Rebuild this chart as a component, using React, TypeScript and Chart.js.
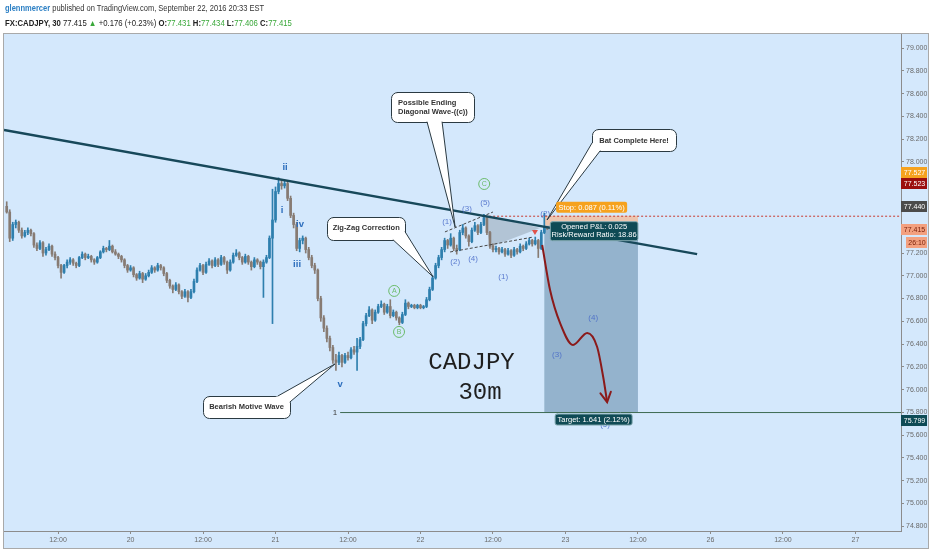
import React, { useEffect, useRef } from 'react';
import { Chart, registerables } from 'chart.js';

Chart.register(...registerables);

// ---------- DATA ----------
const firstBar = 7; // bar index of first candle (0 = Sep 19 00:00, 30m bars)
// [open, high, low, close]
const ohlc: [number, number, number, number][] = [
  [77.61, 77.65, 77.55, 77.56], [77.56, 77.58, 77.30, 77.33], [77.33, 77.47, 77.31, 77.45], [77.45, 77.49, 77.42, 77.47], [77.47, 77.48, 77.38, 77.40],
  [77.40, 77.42, 77.33, 77.35], [77.35, 77.40, 77.34, 77.38], [77.38, 77.42, 77.36, 77.40], [77.40, 77.41, 77.35, 77.37], [77.37, 77.38, 77.25, 77.27],
  [77.27, 77.29, 77.22, 77.24], [77.24, 77.31, 77.23, 77.29], [77.29, 77.30, 77.17, 77.20], [77.20, 77.25, 77.18, 77.23], [77.23, 77.28, 77.22, 77.26],
  [77.26, 77.27, 77.17, 77.19], [77.19, 77.21, 77.14, 77.16], [77.16, 77.17, 77.07, 77.09], [77.09, 77.10, 76.98, 77.03], [77.03, 77.10, 77.02, 77.09],
  [77.09, 77.14, 77.07, 77.12], [77.12, 77.16, 77.10, 77.14], [77.14, 77.15, 77.09, 77.11], [77.11, 77.12, 77.07, 77.09], [77.09, 77.17, 77.08, 77.16],
  [77.16, 77.21, 77.15, 77.19], [77.19, 77.20, 77.14, 77.16], [77.16, 77.19, 77.15, 77.17], [77.17, 77.18, 77.12, 77.14], [77.14, 77.15, 77.10, 77.12],
  [77.12, 77.17, 77.11, 77.16], [77.16, 77.22, 77.15, 77.21], [77.21, 77.26, 77.20, 77.24], [77.24, 77.25, 77.21, 77.23], [77.23, 77.31, 77.22, 77.26],
  [77.26, 77.27, 77.20, 77.21], [77.21, 77.23, 77.18, 77.19], [77.19, 77.20, 77.15, 77.17], [77.17, 77.18, 77.12, 77.14], [77.14, 77.15, 77.07, 77.09],
  [77.09, 77.10, 77.03, 77.05], [77.05, 77.09, 77.04, 77.07], [77.07, 77.08, 76.99, 77.01], [77.01, 77.02, 76.96, 76.98], [76.98, 77.04, 76.97, 77.02],
  [77.02, 77.03, 76.94, 76.97], [76.97, 77.02, 76.96, 77.00], [77.00, 77.05, 76.99, 77.03], [77.03, 77.09, 77.02, 77.07], [77.07, 77.08, 77.03, 77.05],
  [77.05, 77.11, 77.04, 77.09], [77.09, 77.10, 77.05, 77.07], [77.07, 77.08, 77.00, 77.02], [77.02, 77.03, 76.94, 76.96], [76.96, 76.97, 76.89, 76.91],
  [76.91, 76.92, 76.85, 76.88], [76.88, 76.94, 76.87, 76.92], [76.92, 76.93, 76.84, 76.86], [76.86, 76.87, 76.80, 76.82], [76.82, 76.88, 76.81, 76.86],
  [76.86, 76.87, 76.77, 76.81], [76.81, 76.88, 76.80, 76.86], [76.86, 76.97, 76.85, 76.95], [76.95, 77.07, 76.94, 77.05], [77.05, 77.11, 77.04, 77.09],
  [77.09, 77.10, 77.01, 77.03], [77.03, 77.12, 77.02, 77.10], [77.10, 77.15, 77.09, 77.13], [77.13, 77.14, 77.07, 77.09], [77.09, 77.16, 77.08, 77.14],
  [77.14, 77.15, 77.08, 77.10], [77.10, 77.18, 77.09, 77.16], [77.16, 77.17, 77.10, 77.12], [77.12, 77.13, 77.02, 77.05], [77.05, 77.14, 77.04, 77.12],
  [77.12, 77.20, 77.11, 77.18], [77.18, 77.23, 77.17, 77.20], [77.20, 77.21, 77.14, 77.16], [77.16, 77.17, 77.10, 77.12], [77.12, 77.19, 77.11, 77.17],
  [77.17, 77.18, 77.10, 77.12], [77.12, 77.13, 77.05, 77.08], [77.08, 77.16, 77.07, 77.14], [77.14, 77.15, 77.10, 77.12], [77.12, 77.13, 77.06, 77.08],
  [77.08, 77.14, 76.81, 77.12], [77.12, 77.18, 77.11, 77.16], [77.16, 77.35, 77.15, 77.33], [77.33, 77.76, 76.58, 77.49], [77.49, 77.78, 77.47, 77.74],
  [77.74, 77.86, 77.72, 77.81], [77.81, 77.84, 77.76, 77.79], [77.79, 77.84, 77.77, 77.81], [77.81, 77.83, 77.66, 77.68], [77.68, 77.70, 77.51, 77.53],
  [77.53, 77.55, 77.42, 77.45], [77.45, 77.47, 77.22, 77.24], [77.24, 77.33, 77.21, 77.31], [77.31, 77.35, 77.28, 77.33], [77.33, 77.34, 77.20, 77.23],
  [77.23, 77.25, 77.14, 77.16], [77.16, 77.18, 77.07, 77.09], [77.09, 77.11, 77.02, 77.05], [77.05, 77.06, 76.78, 76.80], [76.80, 76.82, 76.60, 76.63],
  [76.63, 76.65, 76.51, 76.54], [76.54, 76.56, 76.42, 76.45], [76.45, 76.47, 76.34, 76.37], [76.37, 76.39, 76.23, 76.26], [76.26, 76.31, 76.17, 76.24],
  [76.24, 76.33, 76.22, 76.30], [76.30, 76.31, 76.20, 76.24], [76.24, 76.32, 76.23, 76.30], [76.30, 76.33, 76.26, 76.28], [76.28, 76.37, 76.27, 76.35],
  [76.35, 76.38, 76.31, 76.33], [76.33, 76.45, 76.17, 76.38], [76.38, 76.46, 76.36, 76.44], [76.44, 76.60, 76.43, 76.58], [76.58, 76.67, 76.56, 76.65],
  [76.65, 76.73, 76.64, 76.70], [76.70, 76.71, 76.58, 76.61], [76.61, 76.70, 76.60, 76.68], [76.68, 76.75, 76.67, 76.73], [76.73, 76.78, 76.72, 76.75],
  [76.75, 76.76, 76.66, 76.68], [76.68, 76.75, 76.67, 76.73], [76.73, 76.79, 76.63, 76.65], [76.65, 76.70, 76.64, 76.68], [76.68, 76.69, 76.61, 76.63],
  [76.63, 76.64, 76.57, 76.59], [76.59, 76.68, 76.58, 76.66], [76.66, 76.79, 76.65, 76.76], [76.76, 76.77, 76.71, 76.73], [76.73, 76.75, 76.72, 76.74],
  [76.74, 76.75, 76.71, 76.72], [76.72, 76.75, 76.71, 76.74], [76.74, 76.75, 76.71, 76.72], [76.72, 76.74, 76.71, 76.73], [76.73, 76.81, 76.72, 76.79],
  [76.79, 76.90, 76.78, 76.88], [76.88, 77.00, 76.87, 76.98], [76.98, 77.11, 76.97, 77.09], [77.09, 77.18, 77.07, 77.16], [77.16, 77.25, 77.14, 77.23],
  [77.23, 77.33, 77.21, 77.31], [77.31, 77.32, 77.24, 77.27], [77.27, 77.37, 77.26, 77.33], [77.33, 77.34, 77.22, 77.24], [77.24, 77.27, 77.19, 77.23],
  [77.23, 77.40, 77.22, 77.38], [77.38, 77.45, 77.36, 77.42], [77.42, 77.43, 77.33, 77.35], [77.35, 77.36, 77.26, 77.30], [77.30, 77.42, 77.29, 77.40],
  [77.40, 77.47, 77.39, 77.44], [77.44, 77.45, 77.36, 77.38], [77.38, 77.47, 77.37, 77.45], [77.45, 77.54, 77.44, 77.51], [77.51, 77.52, 77.36, 77.38],
  [77.38, 77.39, 77.24, 77.26], [77.26, 77.28, 77.21, 77.23], [77.23, 77.26, 77.21, 77.24], [77.24, 77.25, 77.19, 77.21], [77.21, 77.25, 77.20, 77.23],
  [77.23, 77.24, 77.17, 77.19], [77.19, 77.24, 77.18, 77.22], [77.22, 77.23, 77.16, 77.18], [77.18, 77.25, 77.17, 77.23], [77.23, 77.24, 77.19, 77.21],
  [77.21, 77.28, 77.20, 77.26], [77.26, 77.27, 77.22, 77.24], [77.24, 77.30, 77.23, 77.28], [77.28, 77.33, 77.27, 77.31], [77.31, 77.32, 77.26, 77.28],
  [77.28, 77.34, 77.27, 77.31], [77.31, 77.32, 77.16, 77.24], [77.24, 77.40, 77.23, 77.38], [77.38, 77.55, 77.37, 77.43], [77.431, 77.434, 77.406, 77.415],
];

const xTickValues = [24, 48, 72, 96, 120, 144, 168, 192, 216, 240, 264, 288];
const xTickLabels = ['12:00', '20', '12:00', '21', '12:00', '22', '12:00', '23', '12:00', '26', '12:00', '27'];
const yTickValues = [74.8, 75.0, 75.2, 75.4, 75.6, 75.8, 76.0, 76.2, 76.4, 76.6, 76.8, 77.0, 77.2, 77.4, 77.6, 77.8, 78.0, 78.2, 78.4, 78.6, 78.8, 79.0];
const xRange = [6.1, 303.1];
const yRange = [74.759, 79.123];

const trendLine = [{ x: 6.1, y: 78.28 }, { x: 235.6, y: 77.19 }];
const projectionCurve = [
  { x: 184.3, y: 77.27 }, { x: 186.9, y: 76.875 }, { x: 190.2, y: 76.586 }, { x: 194.5, y: 76.392 },
  { x: 199.2, y: 76.498 }, { x: 202.5, y: 76.375 }, { x: 204.5, y: 76.111 }, { x: 205.8, y: 75.891 },
];
const redLevel = [{ x: 165.4, y: 77.523 }, { x: 303.1, y: 77.523 }];
const fibLevel = [{ x: 117.4, y: 75.799 }, { x: 303.1, y: 75.799 }];
const diagUpper = [{ x: 152.1, y: 77.385 }, { x: 168.0, y: 77.56 }];
const diagLower = [{ x: 153.8, y: 77.209 }, { x: 181.3, y: 77.34 }];
const greyTriangle = [{ x: 165.4, y: 77.534 }, { x: 167.0, y: 77.253 }, { x: 183.6, y: 77.42 }];
const redMarker = { x: 181.9, y: 77.376 };

const trade = { from: 185, to: 216, entry: 77.44, stop: 77.527, target: 75.799 };
const tradeTexts = { stop: 'Stop: 0.087 (0.11%)', pnl: 'Opened P&L: 0.025', rr: 'Risk/Reward Ratio: 18.86', target: 'Target: 1.641 (2.12%)' };

const waveLabels = [
  { t: 'ii', x: 99.17, y: 77.955, k: 'roman' }, { t: 'i', x: 98.17, y: 77.578, k: 'roman' },
  { t: 'iv', x: 104.13, y: 77.455, k: 'roman' }, { t: 'iii', x: 103.14, y: 77.104, k: 'roman' },
  { t: 'v', x: 117.38, y: 76.05, k: 'roman' },
  { t: '(1)', x: 152.8, y: 77.472, k: 'paren' }, { t: '(2)', x: 155.5, y: 77.121, k: 'paren' },
  { t: '(3)', x: 159.4, y: 77.587, k: 'paren' }, { t: '(4)', x: 161.4, y: 77.147, k: 'paren' },
  { t: '(5)', x: 165.4, y: 77.639, k: 'paren' }, { t: '(1)', x: 171.4, y: 76.99, k: 'paren' },
  { t: '(2)', x: 185.3, y: 77.543, k: 'paren' }, { t: '(3)', x: 189.2, y: 76.305, k: 'paren' },
  { t: '(4)', x: 201.2, y: 76.63, k: 'paren' }, { t: '(5)', x: 205.1, y: 75.69, k: 'paren' },
  { t: 'A', x: 135.3, y: 76.867, k: 'circle' }, { t: 'B', x: 136.9, y: 76.507, k: 'circle' },
  { t: 'C', x: 165.1, y: 77.806, k: 'circle' },
  { t: '1', x: 115.7, y: 75.80, k: 'fib' },
];
const bigTitle = [
  { t: 'CADJPY', x: 160.9, y: 76.239 },
  { t: '30m', x: 163.7, y: 75.975 },
];
const callouts = [
  { lines: ['Possible Ending', 'Diagonal Wave-((c))'], x: 155.46, y: 77.428 },
  { lines: ['Bat Complete Here!'], x: 185.9, y: 77.49 },
  { lines: ['Zig-Zag Correction'], x: 148.2, y: 76.99 },
  { lines: ['Bearish Motive Wave'], x: 115.7, y: 76.226 },
];
const axisTags = [
  { value: 77.527, text: '77.527' },
  { value: 77.523, text: '77.523' },
  { value: 77.44, text: '77.440' },
  { value: 77.415, text: '77.415' },
  { value: 77.415, text: '26:10' },
  { value: 75.799, text: '75.799' },
];

// ---------- STYLE / LAYOUT ----------
const BG = '#d4e8fc';
const UP = '#2e7fae';
const DOWN = '#877b73';
const SANS = '"Liberation Sans", Arial, sans-serif';
const CALLOUT_LAYOUT = [
  { box: [-64, -135, 19, -105], b1: [-28, -105], b2: [-13, -105], align: 'left', tx: -57, ty: [-124, -115.3] },
  { box: [45, -91, 129, -69], b1: [45, -77], b2: [53, -69], align: 'center', tx: 87, ty: [-79] },
  { box: [-106, -60, -28, -37], b1: [-40, -37], b2: [-28, -45], align: 'center', tx: -67, ty: [-48.5] },
  { box: [-132, 32, -45, 54], b1: [-57, 32], b2: [-45, 38], align: 'center', tx: -88.5, ty: [43] },
];
const TAG_STYLE = [
  { dy: -43, bg: '#f6a21e', fg: '#ffffff', l: 901 },
  { dy: -33, bg: '#9b0e0e', fg: '#ffffff', l: 901 },
  { dy: -19, bg: '#4b4b4b', fg: '#ffffff', l: 901 },
  { dy: 1, bg: '#f3a07f', fg: '#7a200a', l: 901 },
  { dy: 13.5, bg: '#f3a07f', fg: '#7a200a', l: 906 },
  { dy: 7.5, bg: '#0e4a55', fg: '#ffffff', l: 901 },
];

function rr(ctx: CanvasRenderingContext2D, x: number, y: number, w: number, h: number, r: number) {
  ctx.beginPath();
  ctx.moveTo(x + r, y);
  ctx.lineTo(x + w - r, y);
  ctx.arcTo(x + w, y, x + w, y + r, r);
  ctx.lineTo(x + w, y + h - r);
  ctx.arcTo(x + w, y + h, x + w - r, y + h, r);
  ctx.lineTo(x + r, y + h);
  ctx.arcTo(x, y + h, x, y + h - r, r);
  ctx.lineTo(x, y + r);
  ctx.arcTo(x, y, x + r, y, r);
  ctx.closePath();
}

const overlayPlugin = {
  id: 'overlay',
  beforeDraw(chart: any) {
    const ctx = chart.ctx as CanvasRenderingContext2D;
    ctx.save();
    ctx.fillStyle = '#ffffff';
    ctx.fillRect(0, 0, chart.width, chart.height);
    ctx.fillStyle = BG;
    ctx.fillRect(4, 34, 924, 514);
    ctx.strokeStyle = '#a9a9a9';
    ctx.lineWidth = 1;
    ctx.strokeRect(3.5, 33.5, 925, 515);
    ctx.restore();
  },
  beforeDatasetsDraw(chart: any) {
    const ctx = chart.ctx as CanvasRenderingContext2D;
    const xs = chart.scales.x, ys = chart.scales.y;
    const a = chart.chartArea;
    ctx.save();
    ctx.beginPath();
    ctx.rect(a.left, a.top, a.right - a.left, a.bottom - a.top);
    ctx.clip();
    const l = xs.getPixelForValue(trade.from), r = xs.getPixelForValue(trade.to);
    const yE = ys.getPixelForValue(trade.entry), yS = ys.getPixelForValue(trade.stop), yT = ys.getPixelForValue(trade.target);
    ctx.fillStyle = 'rgba(245,185,150,0.75)';
    ctx.fillRect(l, yS, r - l, yE - yS);
    ctx.fillStyle = 'rgba(95,135,165,0.55)';
    ctx.fillRect(l, yE, r - l, yT - yE);
    ctx.beginPath();
    greyTriangle.forEach((p, i) => {
      const px = xs.getPixelForValue(p.x), py = ys.getPixelForValue(p.y);
      if (i === 0) ctx.moveTo(px, py); else ctx.lineTo(px, py);
    });
    ctx.closePath();
    ctx.fillStyle = 'rgba(150,165,180,0.55)';
    ctx.fill();
    ctx.restore();
  },
  afterDatasetsDraw(chart: any) {
    const ctx = chart.ctx as CanvasRenderingContext2D;
    const xs = chart.scales.x, ys = chart.scales.y;
    const X = (v: number) => xs.getPixelForValue(v);
    const Y = (v: number) => ys.getPixelForValue(v);
    ctx.save();
    ctx.textBaseline = 'middle';

    const n = projectionCurve.length;
    const p1 = projectionCurve[n - 2], p2 = projectionCurve[n - 1];
    const ax = X(p2.x), ay = Y(p2.y);
    const ang = Math.atan2(ay - Y(p1.y), ax - X(p1.x));
    ctx.strokeStyle = '#8b1a1a';
    ctx.lineWidth = 2;
    ctx.lineCap = 'round';
    ctx.beginPath();
    ctx.moveTo(ax - 11 * Math.cos(ang - 0.5), ay - 11 * Math.sin(ang - 0.5));
    ctx.lineTo(ax, ay);
    ctx.lineTo(ax - 11 * Math.cos(ang + 0.5), ay - 11 * Math.sin(ang + 0.5));
    ctx.stroke();

    const mx = X(redMarker.x), my = Y(redMarker.y);
    ctx.fillStyle = '#e0524a';
    ctx.beginPath();
    ctx.moveTo(mx - 3, my - 3);
    ctx.lineTo(mx + 3, my - 3);
    ctx.lineTo(mx, my + 2);
    ctx.closePath();
    ctx.fill();

    ctx.textAlign = 'center';
    waveLabels.forEach((w) => {
      const px = X(w.x), py = Y(w.y);
      if (w.k === 'roman') {
        ctx.font = `bold 9.5px ${SANS}`;
        ctx.fillStyle = '#2d6ebd';
        ctx.fillText(w.t, px, py);
      } else if (w.k === 'paren') {
        ctx.font = `8px ${SANS}`;
        ctx.fillStyle = 'rgba(70,105,200,0.85)';
        ctx.fillText(w.t, px, py);
      } else if (w.k === 'circle') {
        ctx.strokeStyle = '#6cbc6c';
        ctx.lineWidth = 1;
        ctx.beginPath();
        ctx.arc(px, py, 5.5, 0, Math.PI * 2);
        ctx.stroke();
        ctx.font = `7px ${SANS}`;
        ctx.fillStyle = '#6cbc6c';
        ctx.fillText(w.t, px, py + 0.5);
      } else {
        ctx.font = `8px ${SANS}`;
        ctx.fillStyle = '#3a3a3a';
        ctx.fillText(w.t, px, py);
      }
    });

    ctx.font = '24px "Liberation Mono", "DejaVu Sans Mono", monospace';
    ctx.fillStyle = '#1e1e1e';
    bigTitle.forEach((b) => ctx.fillText(b.t, X(b.x), Y(b.y)));

    callouts.forEach((c, i) => {
      const L = CALLOUT_LAYOUT[i];
      const tx = X(c.x), ty = Y(c.y);
      const bl = Math.round(tx + L.box[0]) + 0.5, bt = Math.round(ty + L.box[1]) + 0.5;
      const br = Math.round(tx + L.box[2]) + 0.5, bb = Math.round(ty + L.box[3]) + 0.5;
      ctx.lineWidth = 1;
      ctx.strokeStyle = '#2b3a42';
      rr(ctx, bl, bt, br - bl, bb - bt, 6);
      ctx.fillStyle = '#ffffff';
      ctx.fill();
      ctx.stroke();
      const b1x = tx + L.b1[0], b1y = ty + L.b1[1], b2x = tx + L.b2[0], b2y = ty + L.b2[1];
      const cx = (bl + br) / 2, cy = (bt + bb) / 2;
      ctx.beginPath();
      ctx.moveTo(b1x, b1y);
      ctx.lineTo(tx, ty);
      ctx.lineTo(b2x, b2y);
      ctx.lineTo(cx, cy);
      ctx.closePath();
      ctx.fill();
      ctx.beginPath();
      ctx.moveTo(b1x, b1y);
      ctx.lineTo(tx, ty);
      ctx.lineTo(b2x, b2y);
      ctx.stroke();
      ctx.font = `bold 7.5px ${SANS}`;
      ctx.fillStyle = '#333333';
      ctx.textAlign = L.align as CanvasTextAlign;
      c.lines.forEach((line, j) => ctx.fillText(line, tx + L.tx, ty + L.ty[j]));
    });

    const l = X(trade.from), r = X(trade.to);
    const cxT = (l + r) / 2;
    const yE = Y(trade.entry), yS = Y(trade.stop), yT = Y(trade.target);
    ctx.textAlign = 'center';
    ctx.font = `7.5px ${SANS}`;
    ctx.fillStyle = '#f6a21e';
    rr(ctx, cxT - 35, yS - 14, 71, 11, 2);
    ctx.fill();
    ctx.fillStyle = '#ffffff';
    ctx.fillText(tradeTexts.stop, cxT + 0.5, yS - 8.3);
    ctx.fillStyle = '#0f4a55';
    ctx.strokeStyle = '#7fa7ae';
    rr(ctx, l + 6, yE - 4, r - l - 6, 19, 2);
    ctx.fill();
    ctx.stroke();
    ctx.fillStyle = '#ffffff';
    ctx.fillText(tradeTexts.pnl, cxT + 3, yE + 1.3);
    ctx.fillText(tradeTexts.rr, cxT + 3, yE + 9.5);
    ctx.fillStyle = '#0f4a55';
    rr(ctx, cxT - 36, yT + 1.5, 77, 11, 2);
    ctx.fill();
    ctx.stroke();
    ctx.fillStyle = '#ffffff';
    ctx.fillText(tradeTexts.target, cxT + 2.5, yT + 7.3);
    ctx.restore();
  },
  afterDraw(chart: any) {
    const ctx = chart.ctx as CanvasRenderingContext2D;
    const ys = chart.scales.y;
    ctx.save();
    ctx.textBaseline = 'middle';
    ctx.textAlign = 'center';
    ctx.font = `7px ${SANS}`;
    axisTags.forEach((t, i) => {
      const s = TAG_STYLE[i];
      const y = ys.getPixelForValue(t.value) + s.dy;
      ctx.fillStyle = s.bg;
      ctx.fillRect(s.l, Math.round(y - 5.5), 927 - s.l, 11);
      ctx.fillStyle = s.fg;
      ctx.fillText(t.text, (s.l + 927) / 2 + 0.5, Math.round(y - 5.5) + 6);
    });
    ctx.restore();
  },
};

export default function App() {
  const ref = useRef<HTMLCanvasElement | null>(null);
  useEffect(() => {
    if (!ref.current) return;
    const colors = ohlc.map((b) => (b[3] >= b[0] ? UP : DOWN));
    const wickData = ohlc.map((b, k) => ({ x: firstBar + k, y: [b[2], b[1]] }));
    const bodyData = ohlc.map((b, k) => ({ x: firstBar + k, y: [Math.min(b[0], b[3]), Math.max(b[0], b[3])] }));
    const lineBase = { type: 'line', pointRadius: 0, fill: false, borderWidth: 1, tension: 0 };
    const chart = new Chart(ref.current, {
      type: 'bar',
      data: {
        datasets: [
          { ...lineBase, data: projectionCurve, borderColor: '#8b1a1a', borderWidth: 2, cubicInterpolationMode: 'monotone', order: 0 },
          { ...lineBase, data: trendLine, borderColor: '#17485a', borderWidth: 2.5, order: 1 },
          { ...lineBase, data: redLevel, borderColor: '#c8392e', borderDash: [2, 2], order: 2 },
          { ...lineBase, data: fibLevel, borderColor: '#3d6a52', order: 2 },
          { ...lineBase, data: diagUpper, borderColor: '#474747', borderDash: [3, 2], order: 2 },
          { ...lineBase, data: diagLower, borderColor: '#474747', borderDash: [3, 2], order: 2 },
          { type: 'bar', data: wickData, backgroundColor: colors, barThickness: 1, grouped: false, order: 6 },
          { type: 'bar', data: bodyData, backgroundColor: colors, barThickness: 2, grouped: false, minBarLength: 1, order: 5 },
        ] as any,
      },
      options: {
        animation: false,
        responsive: false,
        devicePixelRatio: 1,
        events: [],
        layout: { padding: { left: 4, top: 34, right: 5, bottom: 2 } },
        plugins: { legend: { display: false }, tooltip: { enabled: false } },
        scales: {
          x: {
            type: 'linear',
            min: xRange[0],
            max: xRange[1],
            offset: false,
            grid: { display: true, drawOnChartArea: false, drawTicks: true, tickLength: 3, color: '#8c8c8c', offset: false },
            border: { display: true, color: '#8c8c8c' },
            ticks: {
              autoSkip: false, maxRotation: 0, padding: 2, color: '#6a6a6a',
              font: { size: 7, family: SANS },
              callback: (v: any) => { const k = xTickValues.indexOf(Number(v)); return k >= 0 ? xTickLabels[k] : ''; },
            },
            afterBuildTicks: (s: any) => { s.ticks = xTickValues.map((v) => ({ value: v })); },
            afterFit: (s: any) => { s.height = 17; },
          },
          y: {
            type: 'linear',
            position: 'right',
            min: yRange[0],
            max: yRange[1],
            grid: { display: true, drawOnChartArea: false, drawTicks: true, tickLength: 3, color: '#8c8c8c' },
            border: { display: true, color: '#8c8c8c' },
            ticks: {
              padding: 2, color: '#6a6a6a', font: { size: 7, family: SANS },
              callback: (v: any) => Number(v).toFixed(3),
            },
            afterBuildTicks: (s: any) => { s.ticks = yTickValues.map((v) => ({ value: v })); },
            afterFit: (s: any) => { s.width = 26; },
          },
        },
      } as any,
      plugins: [overlayPlugin as any],
    });
    return () => chart.destroy();
  }, []);

  const green = '#3aa83a';
  const hdr: React.CSSProperties = { position: 'absolute', left: 5, fontFamily: SANS, fontSize: 8.5, lineHeight: '10px', whiteSpace: 'nowrap', color: '#333', transformOrigin: 'left center' };
  return (
    <div style={{ position: 'relative', width: 932, height: 550 }}>
      <style>{'body{margin:0;}'}</style>
      <canvas ref={ref} width={932} height={550} style={{ position: 'absolute', left: 0, top: 0, width: 932, height: 550 }} />
      <div style={{ ...hdr, top: 3, transform: 'scaleX(0.885)' }}>
        <b style={{ color: '#2b7fc4' }}>glennmercer</b> published on TradingView.com, September 22, 2016 20:33 EST
      </div>
      <div style={{ ...hdr, top: 18, color: '#222', transform: 'scaleX(0.91)' }}>
        <b>FX:CADJPY, 30</b> 77.415 <span style={{ color: green }}>▲</span> +0.176 (+0.23%) <b>O:</b><span style={{ color: green }}>77.431</span>{' '}
        <b>H:</b><span style={{ color: green }}>77.434</span> <b>L:</b><span style={{ color: green }}>77.406</span> <b>C:</b><span style={{ color: green }}>77.415</span>
      </div>
    </div>
  );
}
